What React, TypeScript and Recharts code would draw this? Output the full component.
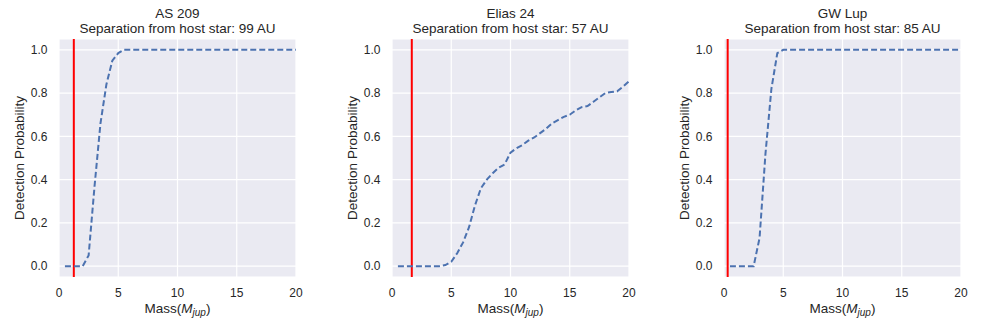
import React from 'react';
import { LineChart, Line, XAxis, YAxis, CartesianGrid, ReferenceLine, Label } from 'recharts';

// mass grid (Jupiter masses) shared by all three panels
const masses = [
  0.5, 1, 1.5, 2, 2.5, 3, 3.5, 4, 4.5, 5, 5.5, 6, 6.5, 7, 7.5, 8, 8.5, 9, 9.5, 10,
  10.5, 11, 11.5, 12, 12.5, 13, 13.5, 14, 14.5, 15, 15.5, 16, 16.5, 17, 17.5, 18, 18.5, 19, 19.5, 20,
];

const as209Prob = [
  0, 0, 0, 0, 0.05, 0.37, 0.66, 0.84, 0.95, 0.985, 1, 1, 1, 1, 1, 1, 1, 1, 1, 1,
  1, 1, 1, 1, 1, 1, 1, 1, 1, 1, 1, 1, 1, 1, 1, 1, 1, 1, 1, 1,
];

const elias24Prob = [
  0, 0, 0, 0, 0, 0, 0, 0, 0.005, 0.02, 0.06, 0.11, 0.18, 0.28, 0.36, 0.4, 0.43, 0.455, 0.47, 0.525,
  0.545, 0.56, 0.58, 0.595, 0.615, 0.635, 0.66, 0.675, 0.69, 0.7, 0.72, 0.735, 0.74, 0.76, 0.78, 0.8, 0.805, 0.808, 0.83, 0.854,
];

const gwLupProb = [
  0, 0, 0, 0, 0, 0.13, 0.52, 0.82, 0.985, 1, 1, 1, 1, 1, 1, 1, 1, 1, 1, 1,
  1, 1, 1, 1, 1, 1, 1, 1, 1, 1, 1, 1, 1, 1, 1, 1, 1, 1, 1, 1,
];

const targets = ['AS 209', 'Elias 24', 'GW Lup'];
const separations = [99, 57, 85];
const planetMasses = [1.25, 1.67, 0.31];

const xTicks = [0, 5, 10, 15, 20];
const yTicks = [0, 0.2, 0.4, 0.6, 0.8, 1.0];

const FONT = '"Liberation Sans", Arial, sans-serif';
const TEXT = '#262626';
const W = 310;
const H = 327;
const PLOT_LEFT = 59;
const PLOT_W = 237;

const Panel = ({ left, name, sep, probs, planet }: { left: number; name: string; sep: number; probs: number[]; planet: number }) => {
  const data = masses.map((m, i) => ({ mass: m, p: probs[i] }));
  return (
    <div style={{ position: 'absolute', left, top: 0, width: W, height: H }}>
      <div
        style={{
          position: 'absolute', left: PLOT_LEFT, top: 7, width: PLOT_W, textAlign: 'center',
          fontFamily: FONT, fontSize: 13.5, lineHeight: '14.5px', color: TEXT,
        }}
      >
        <div>{name}</div>
        <div>Separation from host star: {sep} AU</div>
      </div>
      <LineChart width={W} height={H} data={data} margin={{ top: 39, right: 14, bottom: 10, left: 15 }}>
        <CartesianGrid fill="#EAEAF2" stroke="#ffffff" strokeWidth={1.2} verticalValues={xTicks} />
        <XAxis
          dataKey="mass" type="number" domain={[0, 20]} ticks={xTicks} height={40}
          axisLine={false} tickLine={false} tickSize={0} tickMargin={11}
          tick={{ fill: TEXT, fontSize: 12, fontFamily: FONT }}
        >
          <Label
            content={() => (
              <text x={PLOT_LEFT + PLOT_W / 2} y={313} textAnchor="middle" fill={TEXT} fontSize={13.5} fontFamily={FONT}>
                Mass(<tspan fontStyle="italic">M</tspan>
                <tspan fontStyle="italic" fontSize={10} dy={3}>jup</tspan>
                <tspan dy={-3}>)</tspan>
              </text>
            )}
          />
        </XAxis>
        <YAxis
          type="number" domain={[-0.05, 1.05]} ticks={yTicks} width={44}
          axisLine={false} tickLine={false} tickSize={0} tickMargin={11.5}
          tickFormatter={(v: number) => v.toFixed(1)}
          tick={{ fill: TEXT, fontSize: 12, fontFamily: FONT }}
        >
          <Label
            content={() => (
              <text
                x={23.5} y={158} transform="rotate(-90 23.5 158)" textAnchor="middle"
                fill={TEXT} fontSize={13.5} fontFamily={FONT}
              >
                Detection Probability
              </text>
            )}
          />
        </YAxis>
        <ReferenceLine x={planet} stroke="#FF0000" strokeWidth={2} />
        <Line
          type="linear" dataKey="p" stroke="#4C72B0" strokeWidth={2} strokeDasharray="6 3"
          dot={false} activeDot={false} isAnimationActive={false}
        />
      </LineChart>
    </div>
  );
};

const App = () => {
  const lefts = [0, 333, 665];
  const series = [as209Prob, elias24Prob, gwLupProb];
  return (
    <div style={{ position: 'absolute', left: 0, top: 0, width: 981, height: 327, background: '#fff' }}>
      {targets.map((t, i) => (
        <Panel key={t} left={lefts[i]} name={t} sep={separations[i]} probs={series[i]} planet={planetMasses[i]} />
      ))}
    </div>
  );
};

export default App;
